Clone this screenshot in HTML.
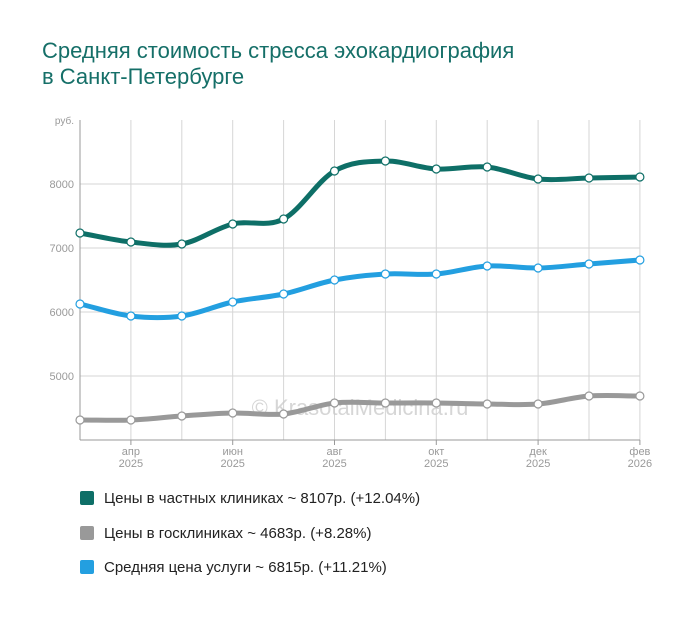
<!DOCTYPE html>
<html><head><meta charset="utf-8"><style>
body{margin:0;background:#fff;width:700px;height:617px;overflow:hidden;font-family:"Liberation Sans",sans-serif}
.t{position:absolute;left:42px;top:38px;font-size:22px;line-height:26px;color:#156f68}
.lg{position:absolute;left:80px;font-size:15px;color:#222}
.lg span{display:inline-block;width:14px;height:14px;border-radius:2px;vertical-align:-2px;margin-right:10px}
</style></head><body>
<div class="t">Средняя стоимость стресса эхокардиография<br>в Санкт-Петербурге</div>
<svg id="s" width="700" height="617" style="position:absolute;left:0;top:0;z-index:-1" font-family="Liberation Sans, sans-serif"></svg>
<div class="lg" style="top:490px"><span style="background:#0e6f67"></span>Цены в частных клиниках ~ 8107р. (+12.04%)</div>
<div class="lg" style="top:525px"><span style="background:#999"></span>Цены в госклиниках ~ 4683р. (+8.28%)</div>
<div class="lg" style="top:559px"><span style="background:#239fe0"></span>Средняя цена услуги ~ 6815р. (+11.21%)</div>
<script>
var s='',X=[];for(var i=0;i<12;i++)X.push(80+i*50.9);
[184,248,312,376].forEach(function(y,k){s+='<line x1="80" x2="640" y1="'+y+'" y2="'+y+'" stroke="#d6d6d6"/>';s+='<text x="74" y="'+(y+4)+'" font-size="11" fill="#999" text-anchor="end">'+(8000-k*1000)+'</text>';});
for(var i=1;i<12;i++)s+='<line x1="'+X[i]+'" x2="'+X[i]+'" y1="120" y2="440" stroke="#d6d6d6"/>';
s+='<line x1="80" x2="80" y1="120" y2="440" stroke="#999"/><line x1="80" x2="640" y1="440" y2="440" stroke="#999"/>';
s+='<text x="74" y="124" font-size="10" fill="#999" text-anchor="end">руб.</text>';
var L=[[1,'апр','2025'],[3,'июн','2025'],[5,'авг','2025'],[7,'окт','2025'],[9,'дек','2025'],[11,'фев','2026']];
L.forEach(function(l){var x=X[l[0]];s+='<line x1="'+x+'" x2="'+x+'" y1="440" y2="445" stroke="#999"/><text x="'+x+'" y="455" font-size="11" fill="#999" text-anchor="middle">'+l[1]+'</text><text x="'+x+'" y="467" font-size="11" fill="#999" text-anchor="middle">'+l[2]+'</text>';});
s+='<text x="360" y="415" font-size="22" fill="#ccc" text-anchor="middle" opacity="0.8">© KrasotaiMedicina.ru</text>';
function path(Y){var d='M'+X[0]+','+Y[0];for(var i=0;i<11;i++){var y0=Y[i-1]!==undefined?Y[i-1]:Y[i],y3=Y[i+2]!==undefined?Y[i+2]:Y[i+1];var t1=(Y[i+1]-y0)/2,t2=(y3-Y[i])/2;if(i==0)t1=Y[1]-Y[0];if(i==10)t2=Y[11]-Y[10];d+=' C'+(X[i]+17)+','+(Y[i]+t1/3)+' '+(X[i+1]-17)+','+(Y[i+1]-t2/3)+' '+X[i+1]+','+Y[i+1];}return d;}
var S=[[[420,420,416,413,414,403,403,403,404,404,396,396],'#999'],[[304,316,316,302,294,280,274,274,266,268,264,260],'#239fe0'],[[233,242,244,224,219,171,161,169,167,179,178,177],'#0e6f67']];
S.forEach(function(q){s+='<path d="'+path(q[0])+'" fill="none" stroke="'+q[1]+'" stroke-width="5"/>';q[0].forEach(function(y,i){s+='<circle cx="'+X[i]+'" cy="'+y+'" r="4" fill="#fff" stroke="'+q[1]+'" stroke-width="1.2"/>';});});
document.getElementById('s').innerHTML=s;
</script>
</body></html>
